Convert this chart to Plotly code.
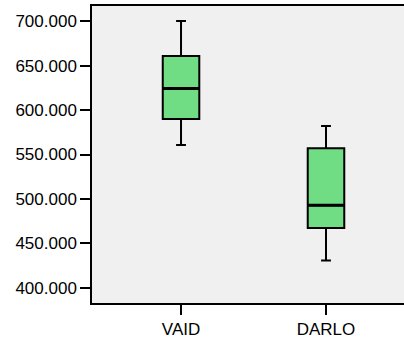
import plotly.graph_objects as go

categories = ["VAID", "DARLO"]
lower_whisker = [560.7, 430.7]
q1_values = [589.9, 467.4]
median_values = [624.3, 492.8]
q3_values = [660.7, 556.9]
upper_whisker = [700.0, 582.0]
y_tick_values = [400, 450, 500, 550, 600, 650, 700]
y_tick_labels = ["400.000", "450.000", "500.000", "550.000", "600.000", "650.000", "700.000"]

positions = list(range(len(categories)))
box_w = 0.252

fig = go.Figure()
fig.add_trace(go.Box(
    x=positions,
    q1=q1_values, median=median_values, q3=q3_values,
    lowerfence=lower_whisker, upperfence=upper_whisker,
    width=box_w,
    whiskerwidth=0.27,
    fillcolor="#70DC84",
    line=dict(color="#000000", width=2),
    boxpoints=False,
    hoverinfo="skip",
    showlegend=False,
))
for p, m in zip(positions, median_values):
    fig.add_trace(go.Scatter(
        x=[p - box_w / 2, p + box_w / 2], y=[m, m],
        mode="lines", line=dict(color="#000000", width=3),
        hoverinfo="skip", showlegend=False,
    ))

fig.update_layout(
    width=404, height=339,
    margin=dict(l=92, r=0, t=6, b=36),
    paper_bgcolor="#FFFFFF",
    plot_bgcolor="#F0F0F0",
    font=dict(family="Liberation Sans, Arial, sans-serif", size=17, color="#000000"),
)
fig.update_xaxes(
    range=[-0.614, 1.538],
    tickvals=positions, ticktext=categories,
    showgrid=False, zeroline=False,
    showline=True, linecolor="#000000", linewidth=1.5, mirror=True,
    ticks="outside", ticklen=10, tickwidth=2, tickcolor="#000000",
    tickfont=dict(size=17),
)
fig.update_yaxes(
    range=[383, 717],
    tickvals=y_tick_values, ticktext=y_tick_labels,
    showgrid=False, zeroline=False,
    showline=True, linecolor="#000000", linewidth=1.5,
    ticks="outside", ticklen=10, tickwidth=2, tickcolor="#000000",
    tickfont=dict(size=17),
)
fig.write_html(
    "out.html",
    config={"displayModeBar": False},
    post_script="document.body.style.margin='0px';document.body.style.overflow='hidden';",
)
